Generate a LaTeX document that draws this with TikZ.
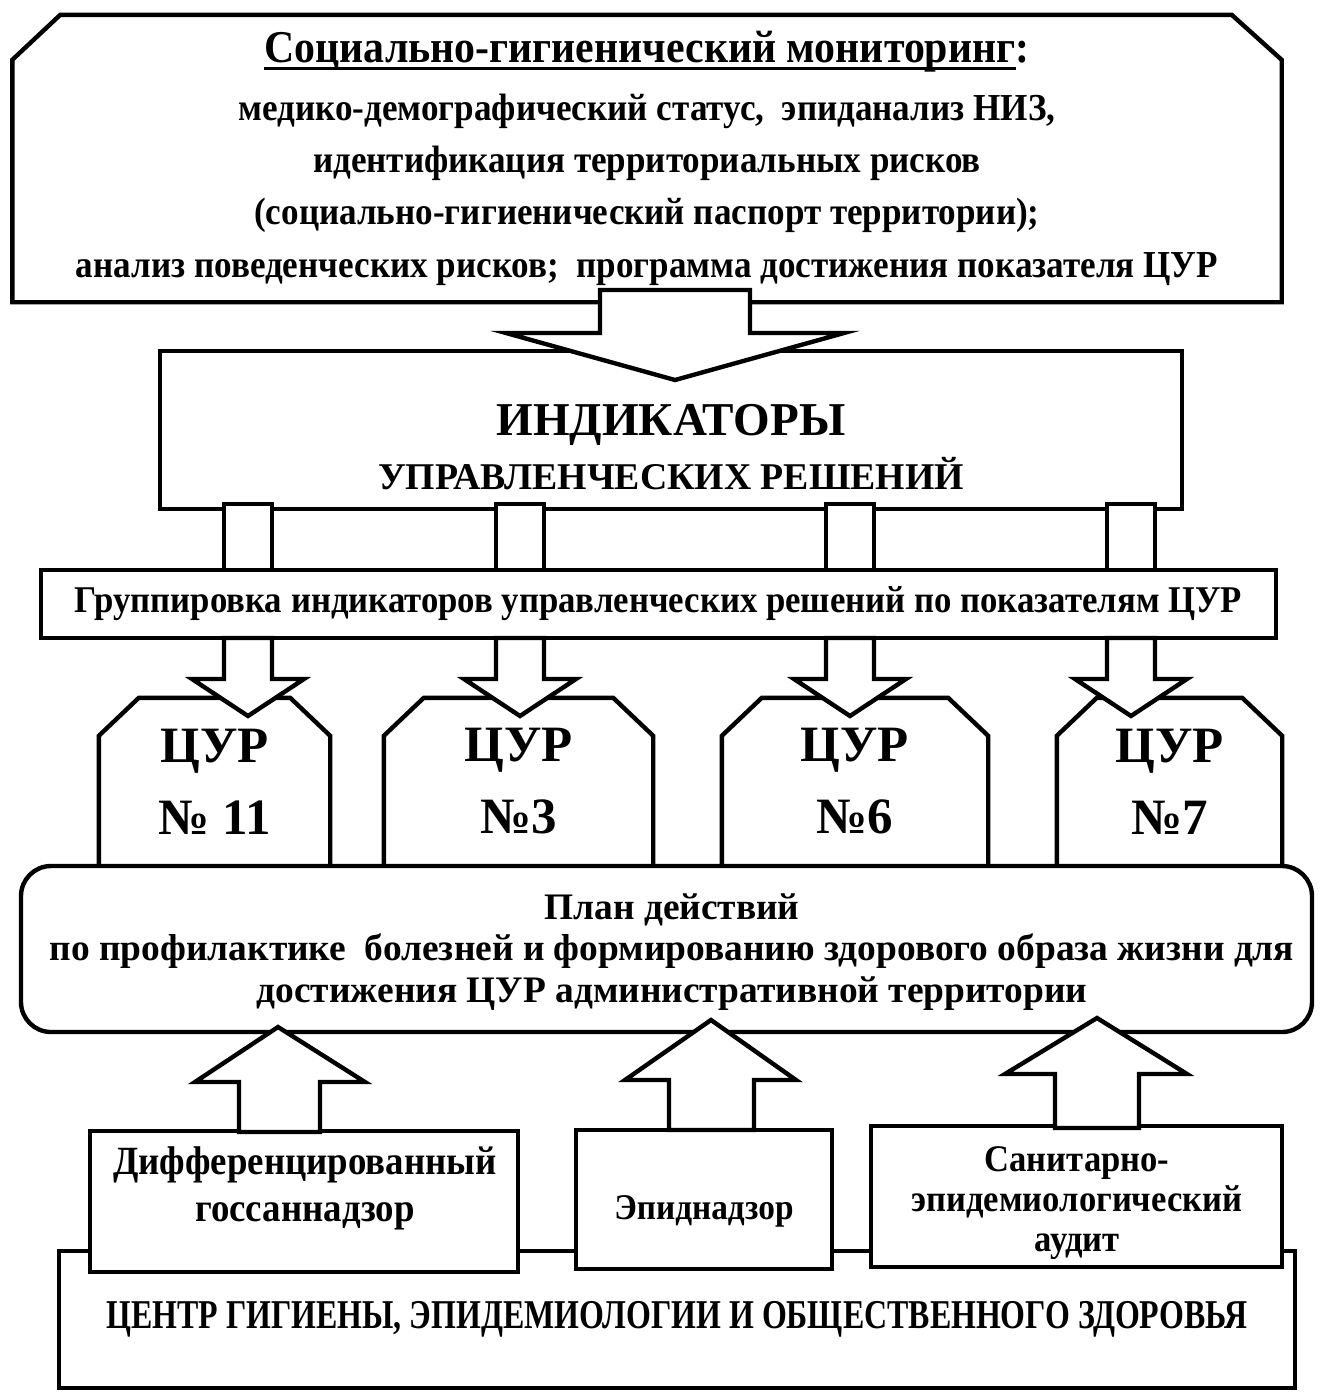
\documentclass[tikz,border=0pt]{standalone}
\usepackage{fontspec}
\setmainfont[FakeStretch=0.92]{Liberation Serif}
\newfontfamily\plainserif{Liberation Serif}
\newfontfamily\narrowserif[FakeStretch=0.78]{Liberation Serif}
\newlength\px
\setlength\px{0.02cm}
\newsavebox\ulbox
\newcommand\ulbar[1]{\sbox\ulbox{#1}\rlap{\rule[-4pt]{\wd\ulbox}{1.6pt}}\usebox\ulbox}

\begin{document}
\begin{tikzpicture}[x=0.02cm, y=-0.02cm, line width=2.5pt,
  box/.style={draw, fill=white, inner sep=0pt, align=center},
  shell/.style={inner sep=0pt, align=center},
  blk/.style={draw, fill=white, line join=miter},
  txt/.style={align=center, inner sep=0pt}]
  \useasboundingbox (0,0) rectangle (1322,1394);

  % monitoring
  \node[shell, minimum width=1265\px, minimum height=283\px,
        font=\bfseries\fontsize{21.7}{29.8}\selectfont] (monit) at (647,158.5)
    {{\fontsize{25.9}{29}\selectfont\ulbar{Социально-гигиенический мониторинг}:}\\[2.8pt]
     медико-демографический статус,~ эпиданализ НИЗ,\\
     идентификация территориальных рисков\\
     (социально-гигиенический паспорт территории);\\
     анализ поведенческих рисков;~ программа достижения показателя ЦУР};
  \draw (monit.south west) -- ([yshift=-45\px]monit.north west) -- ([xshift=48\px]monit.north west)
    -- ([xshift=-50\px]monit.north east) -- ([yshift=-45\px]monit.north east) -- (monit.south east) -- cycle;

  % indicators
  \node[box, minimum width=1022\px, minimum height=158\px] (indic) at (671,430) {};
  \node[txt, font=\plainserif\bfseries\fontsize{21.5}{30.6}\selectfont] (indictxt) at (671,447)
    {{\fontsize{26.8}{30}\selectfont ИНДИКАТОРЫ}\\ УПРАВЛЕНЧЕСКИХ РЕШЕНИЙ};
  \draw[blk] (600,290) -- (750,290) -- (750,333) -- (844,333) -- (675,380)
    -- (506,333) -- (600,333) -- cycle;

  % grouping
  \node[box, minimum width=1235\px, minimum height=68\px,
        font=\bfseries\fontsize{21.5}{24}\selectfont] (grp) at (658.5,604)
    {Группировка индикаторов управленческих решений по показателям ЦУР};
  \foreach \x in {248,520,850,1131}
    \draw[blk] (\x-24,504) rectangle (\x+24,570);

  % goals
  \foreach \x/\w/\n/\lab in {214.5/227/cur11/{№ 11}, 518.5/265/cur3/№3,
                             855/262/cur6/№6, 1169.5/221/cur7/№7} {
    \node[shell, minimum width=\w\px, minimum height=163\px,
          font=\plainserif\bfseries\fontsize{29}{41}\selectfont] (\n) at (\x,781.5) {ЦУР\\\lab};
    \draw (\n.south west) -- ([yshift=-38\px]\n.north west) -- ([xshift=40\px]\n.north west)
      -- ([xshift=-40\px]\n.north east) -- ([yshift=-38\px]\n.north east) -- (\n.south east);
  }
  \foreach \x in {248,520,850,1131}
    \draw[blk] (\x-24,638) -- (\x-24,679) -- (\x-56,679) -- (\x,716)
      -- (\x+56,679) -- (\x+24,679) -- (\x+24,638) -- cycle;

  % plan
  \node[box, rounded corners=30\px, minimum width=1291\px, minimum height=166\px] (plan) at (666.5,949) {};
  \node[txt, font=\plainserif\bfseries\fontsize{21.3}{23.6}\selectfont] (plantxt) at (672,952)
    {План действий\\
     по профилактике~ болезней и формированию здорового образа жизни для\\
     достижения ЦУР административной территории};

  % centre and its services
  \node[box, minimum width=1236\px, minimum height=137\px,
        font=\narrowserif\bfseries\fontsize{23.3}{26}\selectfont] (cgoz) at (677,1319.5)
    {ЦЕНТР ГИГИЕНЫ, ЭПИДЕМИОЛОГИИ И ОБЩЕСТВЕННОГО ЗДОРОВЬЯ};
  \node[box, minimum width=428\px, minimum height=141\px] (dif) at (304,1201.5) {};
  \node[txt, font=\bfseries\fontsize{22.8}{26.6}\selectfont] (diftxt) at (305,1188)
    {Дифференцированный\\ госсаннадзор};
  \node[box, minimum width=256\px, minimum height=139\px] (epid) at (704,1199.5) {};
  \node[txt, font=\bfseries\fontsize{20.6}{24}\selectfont] (epidtxt) at (704,1211) {Эпиднадзор};
  \node[box, minimum width=411\px, minimum height=141\px] (sanit) at (1076.5,1196.5) {};
  \node[txt, font=\bfseries\fontsize{21.4}{22.7}\selectfont] (sanittxt) at (1077,1203)
    {Санитарно-\\ эпидемиологический\\ аудит};

  % arrows up to the plan
  \draw[blk] (239,1132) -- (239,1082) -- (195,1082) -- (278,1027) -- (365,1082)
    -- (320,1082) -- (320,1132) -- cycle;
  \draw[blk] (669,1130) -- (669,1080) -- (625,1080) -- (711,1020) -- (796,1080)
    -- (754,1080) -- (754,1130) -- cycle;
  \draw[blk] (1055,1128) -- (1055,1074) -- (1005,1074) -- (1097,1018) -- (1187,1074)
    -- (1139,1074) -- (1139,1128) -- cycle;
\end{tikzpicture}
\end{document}
